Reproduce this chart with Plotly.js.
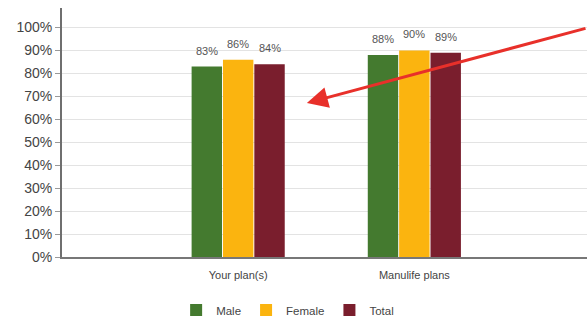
<!DOCTYPE html>
<html><head><meta charset="utf-8">
<script src="https://cdn.plot.ly/plotly-3.0.1.min.js"></script>
<style>html,body{margin:0;padding:0;background:#fff}#c{width:587px;height:319px}</style>
</head><body><div id="c"></div>
<script>
const categories = ["Your plan(s)", "Manulife plans"];
const male = [0.83, 0.88];
const female = [0.86, 0.90];
const total = [0.84, 0.89];
const seriesNames = ["Male", "Female", "Total"];
const colors = ["#447a2f", "#fbb40f", "#7a1e2d"];
const xpos = categories.map((c, i) => i);

const bargap = 0.466;
const series = [male, female, total];
const traces = series.map((vals, k) => ({
  type: 'bar', name: seriesNames[k], x: xpos, y: vals,
  marker: {color: colors[k]},
  hoverinfo: 'none'
}));

// value labels placed above each bar through the data axes
const barSlot = (1 - bargap) / series.length;
const labels = [];
series.forEach((vals, k) => vals.forEach((v, i) => labels.push({
  x: xpos[i] + (k - 1) * barSlot, y: v, xref: 'x', yref: 'y',
  text: Math.round(v * 100) + '%', showarrow: false, yshift: 16,
  font: {family: 'Liberation Sans, Arial, sans-serif', size: 11, color: '#555555'}
})));

const layout = {
  width: 587, height: 319,
  margin: {l: 62, r: 0, t: 8, b: 62},
  paper_bgcolor: '#fff', plot_bgcolor: '#fff',
  font: {family: 'Liberation Sans, Arial, sans-serif', color: '#444'},
  barmode: 'group', bargap: bargap, bargroupgap: 0.03,
  showlegend: true,
  legend: {orientation: 'h', xref: 'container', yref: 'container',
           x: 0.49, xanchor: 'center', y: 0.028, yanchor: 'middle',
           font: {size: 11.5, color: '#444'}, traceorder: 'normal', itemwidth: 30},
  xaxis: {range: [-1, 1.98], tickvals: xpos, ticktext: categories, showgrid: false,
          zeroline: false, showline: true, linecolor: '#777', linewidth: 2,
          ticks: '', ticklabelstandoff: 7, tickfont: {size: 11, color: '#444'}},
  yaxis: {range: [0, 1.085], tickvals: [0,0.1,0.2,0.3,0.4,0.5,0.6,0.7,0.8,0.9,1.0],
          tickformat: '.0%', showgrid: true, gridcolor: '#e3e3e3', gridwidth: 1,
          zeroline: false, showline: true, linecolor: '#6f6f6f', linewidth: 2,
          ticks: 'outside', ticklen: 5, tickcolor: '#999', tickwidth: 1,
          tickfont: {size: 14, color: '#444'}},
  annotations: labels.concat([{
    x: 0.39, y: 0.671, xref: 'x', yref: 'y', text: '', showarrow: true,
    axref: 'pixel', ayref: 'pixel', ax: 282, ay: -75,
    arrowcolor: '#e8302a', arrowwidth: 3, arrowhead: 2, arrowsize: 1.4
  }])
};
Plotly.newPlot('c', traces, layout, {displayModeBar: false, staticPlot: true});
</script></body></html>
